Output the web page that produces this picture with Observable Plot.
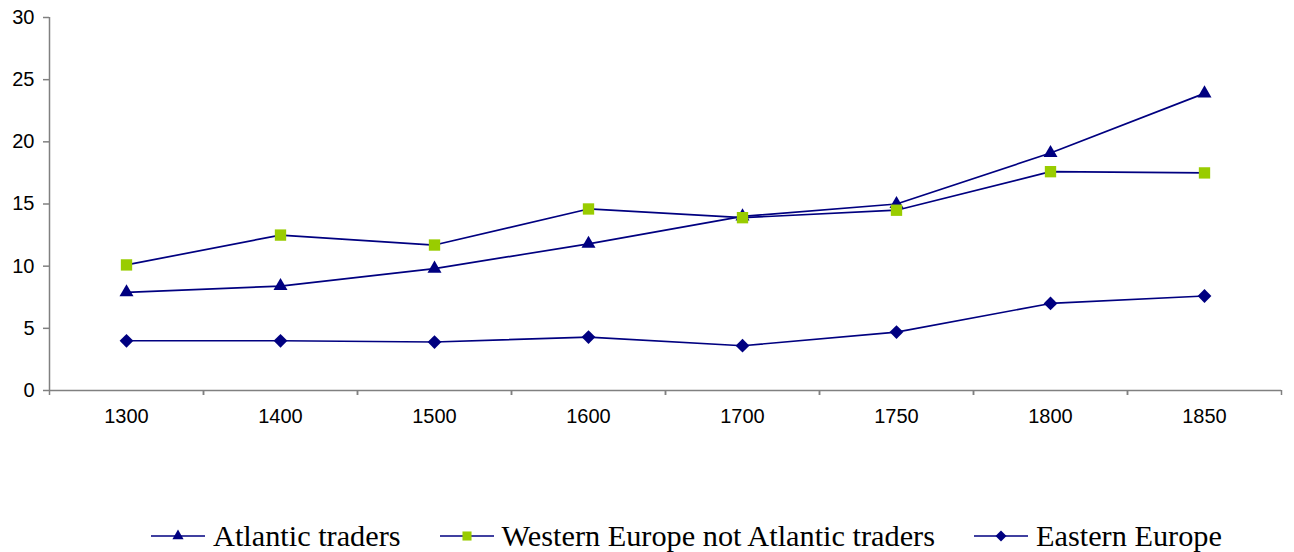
<!DOCTYPE html>
<html><head><meta charset="utf-8">
<script src="https://cdn.jsdelivr.net/npm/d3@7"></script>
<script src="https://cdn.jsdelivr.net/npm/@observablehq/plot@0.6"></script>
<style>
body{margin:0;background:#fff;}
#wrap{position:relative;width:1294px;height:552px;overflow:hidden;}
#legend{position:absolute;left:151px;top:519px;display:flex;align-items:center;font-family:"Liberation Serif","Times New Roman",serif;font-size:30.3px;line-height:34px;color:#000;white-space:nowrap;}
.item{display:flex;align-items:center;margin-right:39px;}
.item svg{margin-right:8px;display:block;}
</style></head><body><div id="wrap"><div id="chart"></div><div id="legend"></div></div>
<script>
const years = ["1300","1400","1500","1600","1700","1750","1800","1850"];
const atlantic = [7.9, 8.4, 9.8, 11.8, 14.0, 15.0, 19.1, 23.9];
const western  = [10.1, 12.5, 11.7, 14.6, 13.9, 14.5, 17.6, 17.5];
const eastern  = [4.0, 4.0, 3.9, 4.3, 3.6, 4.7, 7.0, 7.6];
const yTicks = [0, 5, 10, 15, 20, 25, 30];
const seriesNames = ["Atlantic traders", "Western Europe not Atlantic traders", "Eastern Europe"];
const seriesSymbols = ["triangle", "square", "diamond2"];
const seriesFills = ["#000080", "#99CC00", "#000080"];
const seriesR = [5.2, 6.4, 6.2];
const lineColor = "#000080";
const axisColor = "#808080";

const W = 1294, H = 430, ML = 49, MR = 13, MT = 17, MB = 40;
const step = (W - ML - MR) / years.length;
const allSeries = [atlantic, western, eastern].map((vals, i) =>
  years.map((y, j) => ({year: y, value: vals[j], s: i})));

const chart = Plot.plot({
  width: W, height: H,
  marginLeft: ML, marginRight: MR, marginTop: MT, marginBottom: MB,
  style: {fontFamily: "'Liberation Sans', Arial, sans-serif", background: "#fff"},
  x: {type: "point", domain: years, padding: 0.5},
  y: {domain: [0, 30]},
  marks: [
    Plot.axisY({ticks: yTicks, tickSize: 6, tickPadding: 9, stroke: axisColor, strokeWidth: 1.5, fill: "#000", fontSize: 20, label: null}),
    Plot.axisX({tickSize: 0, tickPadding: 18, fontSize: 20, fill: "#000", label: null}),
    Plot.axisX({tickSize: 5, tickFormat: () => "", dx: -step / 2, stroke: axisColor, strokeWidth: 1.5, label: null}),
    Plot.axisX({tickSize: 5, tickFormat: () => "", dx: step / 2, stroke: axisColor, strokeWidth: 1.5, label: null}),
    Plot.ruleY([0], {stroke: axisColor, strokeWidth: 1.5}),
    Plot.ruleX([years[0]], {y1: 0, y2: 30, dx: -step / 2, stroke: axisColor, strokeWidth: 1.5}),
    ...allSeries.flatMap((d, i) => [
      Plot.line(d, {x: "year", y: "value", stroke: lineColor, strokeWidth: 1.7}),
      Plot.dot(d, {x: "year", y: "value", symbol: seriesSymbols[i], fill: seriesFills[i], stroke: "none", r: seriesR[i]})
    ])
  ]
});
document.getElementById("chart").appendChild(chart);

const symMap = {triangle: d3.symbolTriangle, square: d3.symbolSquare, diamond2: d3.symbolDiamond2};
const legend = d3.select("#legend");
seriesNames.forEach((name, i) => {
  const item = legend.append("div").attr("class", "item");
  const sw = item.append("svg").attr("width", 54).attr("height", 20);
  sw.append("line").attr("x1", 0).attr("x2", 54).attr("y1", 10).attr("y2", 10)
    .attr("stroke", lineColor).attr("stroke-width", 1.7);
  const r = seriesR[i] * 0.8;
  sw.append("path").attr("transform", "translate(27,10)")
    .attr("d", d3.symbol(symMap[seriesSymbols[i]], Math.PI * r * r)())
    .attr("fill", seriesFills[i]);
  item.append("span").text(name);
});
</script></body></html>
